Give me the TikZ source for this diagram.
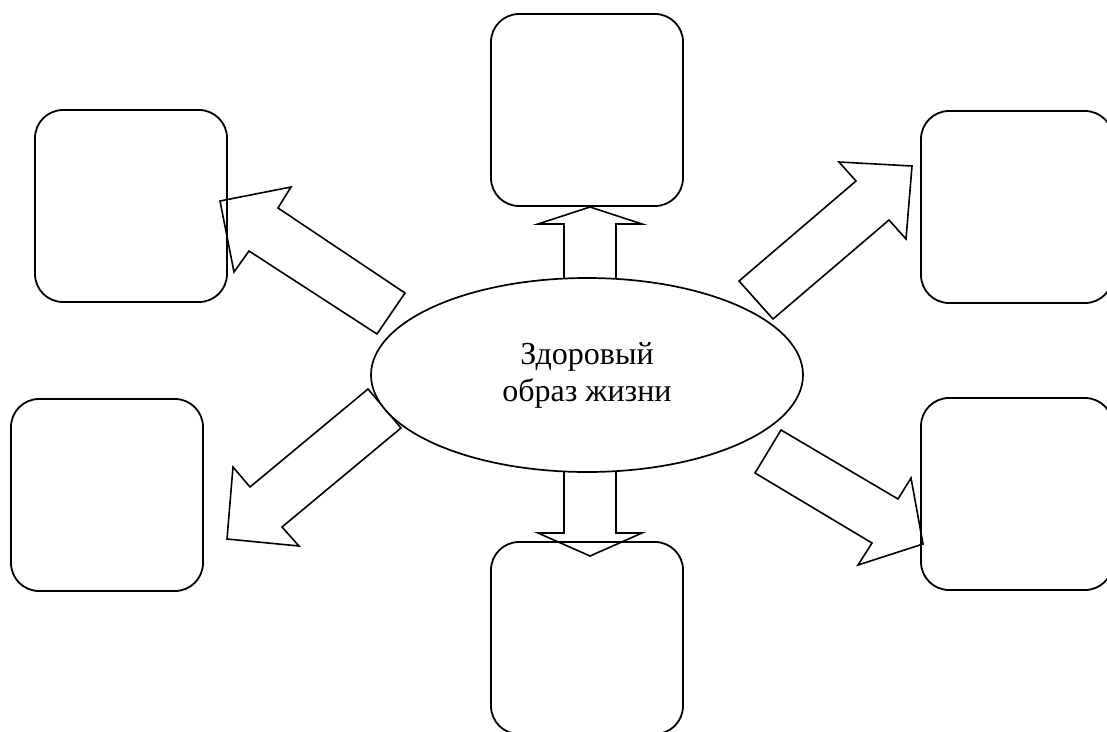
\documentclass[tikz,border=0pt]{standalone}
\usepackage{fontspec}
\setmainfont{Liberation Serif}
\usetikzlibrary{shapes.geometric}
\begin{document}
\begin{tikzpicture}[x=1pt,y=-1pt,
  box/.style={draw, line width=1.8pt, rounded corners=28pt, minimum width=192pt, minimum height=192pt, inner sep=0pt, outer sep=0pt},
  blockarrow/.style={draw, fill=white, line width=1.6pt, line join=miter},
  hub/.style={draw, fill=white, line width=1.7pt, ellipse, minimum width=432pt, minimum height=194pt, inner sep=0pt, outer sep=0pt, align=center, font=\fontsize{32}{37}\selectfont}]
\useasboundingbox (0,0) rectangle (1107,731);
% block arrows
\draw[blockarrow] (590,207) -- (538,224) -- (564,224) -- (564,282) -- (616,282) -- (616,224) -- (642,224) -- cycle;
\draw[blockarrow] (590,556) -- (538,533) -- (564,533) -- (564,468) -- (616,468) -- (616,533) -- (642,533) -- cycle;
\draw[blockarrow] (220,201) -- (291,187) -- (278,208) -- (405,293) -- (377,334) -- (249,251) -- (234,272) -- cycle;
\draw[blockarrow] (912,166) -- (839,162) -- (856,181) -- (739,281) -- (773,319) -- (889,220) -- (906,239) -- cycle;
\draw[blockarrow] (227,539) -- (233,467) -- (250,487) -- (368,389) -- (401,428) -- (282,527) -- (299,546) -- cycle;
\draw[blockarrow] (923,544) -- (911,478) -- (898,499) -- (781,430) -- (755,473) -- (872,543) -- (858,565) -- cycle;
% central ellipse
\node[hub] (hub) at (587,375) {Здоровый\\образ жизни};
% boxes
\node[box] (top) at (587,110) {};
\node[box] (ul) at (131,206) {};
\node[box] (ur) at (1017,207) {};
\node[box] (ll) at (107,495) {};
\node[box] (lr) at (1017,494) {};
\node[box] (bot) at (587,638) {};
\end{tikzpicture}
\end{document}
